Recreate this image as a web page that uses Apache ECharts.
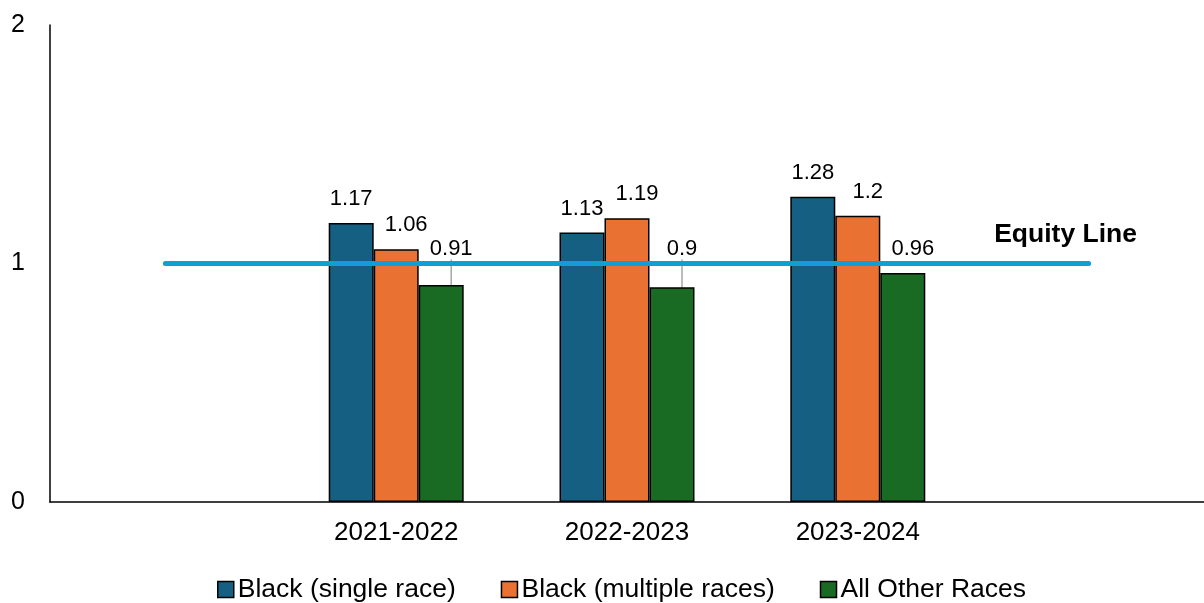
<!DOCTYPE html>
<html>
<head>
<meta charset="utf-8">
<script src="https://cdn.jsdelivr.net/npm/echarts@6/dist/echarts.min.js"></script>
<style>
  html, body { margin: 0; padding: 0; background: #fff; }
  #chart { width: 1204px; height: 603px; }
</style>
</head>
<body>
<div id="chart"></div>
<script>
// School years; empty slots on both ends let the equity line span wider than the bars
const categories = ['', '2021-2022', '2022-2023', '2023-2024', ''];
const blackSingle = [null, 1.17, 1.13, 1.28, null];
const blackMultiple = [null, 1.06, 1.19, 1.2, null];
const allOther = [null, 0.91, 0.9, 0.96, null];
const equity = [1, 1, 1, 1, 1];
const yTicks = [0, 1, 2];

const FONT = 'Liberation Sans, Arial, sans-serif';
const LABEL_SIZE = 22;
const LABEL_DIST = 13;
const LINE_COLOR = '#0F9ED5';

function barSeries(name, data, color, extra) {
  return Object.assign({
    name: name,
    type: 'bar',
    data: data,
    barWidth: 45,
    barGap: '0%',
    itemStyle: { color: color, borderColor: '#000', borderWidth: 1.5 },
    label: {
      show: true,
      position: 'top',
      distance: LABEL_DIST,
      color: '#000',
      fontFamily: FONT,
      fontSize: LABEL_SIZE
    }
  }, extra || {});
}

function buildOption(greenData, greenShift) {
  return {
    animation: false,
    grid: { left: 50, right: -4, top: 25, bottom: 101, containLabel: false },
    legend: {
      data: ['Black (single race)', 'Black (multiple races)', 'All Other Races'],
      bottom: -5,
      left: 212,
      itemWidth: 16,
      itemHeight: 16,
      itemGap: 45,
      icon: 'rect',
      itemStyle: { borderColor: '#000', borderWidth: 1.5 },
      textStyle: { fontFamily: FONT, fontSize: 26.5, color: '#000', padding: [0, 0, 0, -1] }
    },
    xAxis: {
      type: 'category',
      data: categories,
      axisLine: { lineStyle: { color: '#000', width: 1.5 } },
      axisTick: { show: false },
      axisLabel: { color: '#000', fontFamily: FONT, fontSize: 26, margin: 18 }
    },
    yAxis: {
      type: 'value',
      min: yTicks[0],
      max: yTicks[yTicks.length - 1],
      interval: 1,
      axisLine: { show: true, lineStyle: { color: '#000', width: 1.5 } },
      axisTick: { show: false },
      splitLine: { show: false },
      axisLabel: { color: '#000', fontFamily: FONT, fontSize: 25, margin: 25 }
    },
    series: [
      barSeries('Black (single race)', blackSingle, '#156082'),
      barSeries('Black (multiple races)', blackMultiple, '#E97132', {
        labelLayout: { dx: 10 }
      }),
      barSeries('All Other Races', greenData, '#196B24', {
        labelLayout: function (p) {
          return { dx: 10, dy: greenShift[p.dataIndex] || 0 };
        },
        labelLine: { show: false, lineStyle: { color: '#a6a6a6', width: 1.5 } }
      }),
      {
        name: 'Equity Line',
        type: 'line',
        symbol: 'none',
        data: equity.map(function (v, i) {
          if (i !== equity.length - 1) return v;
          // the last point carries the series caption
          return {
            value: v,
            symbol: 'circle',
            symbolSize: 1,
            itemStyle: { color: LINE_COLOR },
            label: {
              show: true,
              position: 'top',
              offset: [-23, -10],
              formatter: 'Equity Line',
              color: '#000',
              fontFamily: FONT,
              fontSize: 26.5,
              fontWeight: 'bold'
            }
          };
        }),
        lineStyle: { color: LINE_COLOR, width: 5, cap: 'round' },
        z: 5
      }
    ]
  };
}

const chart = echarts.init(document.getElementById('chart'));
chart.setOption(buildOption(allOther, []));

// Labels of the green bars that would sit across the equity line are lifted
// above it and tied back to their bar with a leader line.
const lineY = chart.convertToPixel({ yAxisIndex: 0 }, equity[0]);
const shift = [];
const greenData = allOther.map(function (v, i) {
  if (v == null) return null;
  const top = chart.convertToPixel({ yAxisIndex: 0 }, v);
  const labelBottom = top - LABEL_DIST;
  const labelTop = labelBottom - LABEL_SIZE;
  const crosses = labelTop < lineY + 3 && labelBottom > lineY - 3;
  if (!crosses) return v;
  shift[i] = (lineY - 4) - labelBottom;
  return { value: v, labelLine: { show: true } };
});
chart.setOption(buildOption(greenData, shift), true);
</script>
</body>
</html>
